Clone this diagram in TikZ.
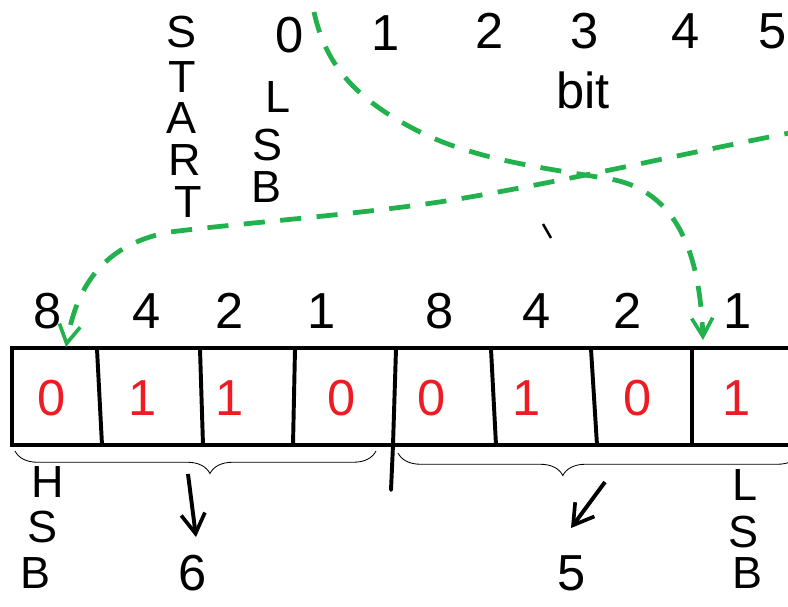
\documentclass[tikz,border=0pt]{standalone}
\usepackage{fontspec}
\setmainfont{Liberation Sans}
\usetikzlibrary{arrows.meta,positioning,calc,decorations.pathreplacing}
\definecolor{dashgreen}{HTML}{22B14C}
\definecolor{bitred}{HTML}{ED1C24}
\tikzset{
  bitnum/.style={font=\fontsize{36}{36}\selectfont, inner sep=0pt},
  cellval/.style={bitnum, text=bitred},
  letter/.style={font=\fontsize{32}{32}\selectfont, inner sep=0pt},
  frame/.style={line width=2.8pt},
  divider/.style={line width=2.8pt, line cap=round},
  gflow/.style={-{Straight Barb[length=13pt,width=15pt,line width=2.6pt]}, dashgreen,
    line width=3.4pt, dash pattern=on 15pt off 11pt},
  span/.style={decorate, decoration={brace, amplitude=16pt, mirror}, line width=0.6pt},
  pointer/.style={-{Straight Barb[length=14pt,width=17pt,line width=2.6pt]}, line width=2.8pt},
}
\begin{document}
\begin{tikzpicture}[x=0.025cm,y=-0.025cm]
  \useasboundingbox (0,0) rectangle (788,606);
  \clip (0,0) rectangle (788,606);
  % bit positions
  \foreach \n/\x/\y in {0/290/35, 1/386/33, 2/490/31, 3/585/31, 4/686/31, 5/773/31}
    \node[bitnum] (pos\n) at (\x,\y) {\n};
  \node[bitnum] (bitword) at (583,90) {bit};
  \foreach \ch/\x/\y [count=\k] in {S/182/32, T/182/77, A/182/118, R/185/160, T/188/202}
    \node[letter] (start\k) at (\x,\y) {\ch};
  \foreach \ch/\x/\y [count=\k] in {L/278/97, S/268/145, B/267/187}
    \node[letter] (lsbtop\k) at (\x,\y) {\ch};
  \draw[line width=1.8pt] (543,224) -- (551,238);
  % the byte
  \draw[frame] (12,348) rectangle (800,445);
  \foreach \xa/\xb in {97/102, 200/203, 295/293, 491/496, 591/597, 692/692}
    \draw[divider] (\xa,349) -- (\xb,445);
  \draw[divider] (396,349) -- (393,445) -- (391,490);
  \foreach \w/\x [count=\k] in {8/48, 4/147, 2/230, 1/322, 8/440, 4/537, 2/628, 1/738}
    \node[bitnum] (w\k) at (\x,311) {\w};
  \foreach \v/\x [count=\k] in {0/52, 1/143, 1/230, 0/342, 0/432, 1/527, 0/638, 1/737}
    \node[cellval] (v\k) at (\x,398) {\v};
  % green moves
  \coordinate (bit0top) at (314,12);
  \coordinate (bit7top) at (805,130);
  \coordinate (cell8top) at (703,340);
  \coordinate (cell1top) at (66,347);
  \draw[gflow] (bit0top) .. controls (325,62) and (352,98) .. (420,132)
    .. controls (480,162) and (560,170) .. (615,180)
    .. controls (682,195) and (700,262) .. (cell8top);
  \draw[gflow] (bit7top) .. controls (700,150) and (580,178) .. (470,197)
    .. controls (380,213) and (250,222) .. (170,232)
    .. controls (100,245) and (76,290) .. (cell1top);
  % nibbles
  \draw[span, decoration={aspect=0.54}] (15,451) -- (376,451);
  \draw[span, decoration={aspect=0.41}] (398,453) -- (800,453);
  \foreach \ch/\x/\y [count=\k] in {H/48/482, S/43/527, B/36/573}
    \node[letter] (msb\k) at (\x,\y) {\ch};
  \foreach \ch/\x/\y [count=\k] in {L/745/485, S/743/532, B/747/573}
    \node[letter] (lsb\k) at (\x,\y) {\ch};
  \node[bitnum] (six) at (193,573) {6};
  \node[bitnum] (five) at (572,573) {5};
  \coordinate (hightip) at (188,474);
  \coordinate (sixhead) at (196,537);
  \coordinate (lowtip) at (605,482);
  \coordinate (fivehead) at (571,528);
  \draw[pointer] (hightip) -- (sixhead);
  \draw[pointer] (lowtip) -- (fivehead);
\end{tikzpicture}
\end{document}
